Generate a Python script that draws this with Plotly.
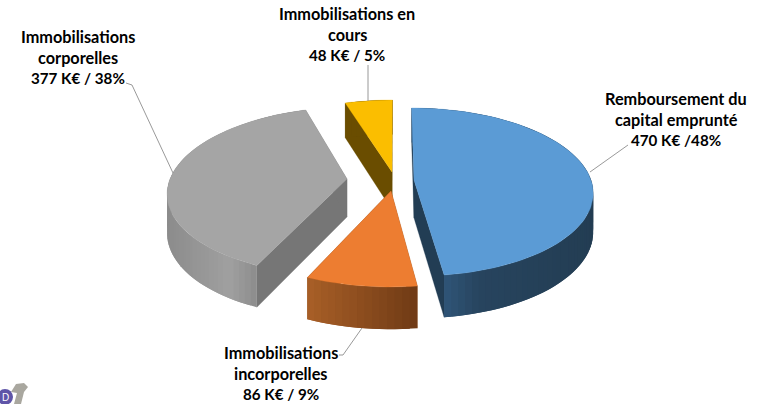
import math
import plotly.graph_objects as go

# ---- data ----
categories = ["Remboursement du capital emprunté", "Immobilisations incorporelles",
              "Immobilisations corporelles", "Immobilisations en cours"]
values_keur = [470, 86, 377, 48]
label_lines = [
    ["Remboursement du", "capital emprunté", "470 K€ /48%"],
    ["Immobilisations", "incorporelles", "86 K€ / 9%"],
    ["Immobilisations", "corporelles", "377 K€ / 38%"],
    ["Immobilisations en", "cours", "48 K€ / 5%"],
]

# ---- styles / layout ----
TOP = ["#5B9BD5", "#ED7D31", "#A5A5A5", "#FBBE00"]
CUT = ["#223D54", "#8A4A1C", "#767676", "#6A4D00"]
RIM = [
    [(444, "#2F5578"), (480, "#27445E"), (593, "#233D53")],
    [(308, "#A85F27"), (418, "#6F3A15")],
    [(168, "#8C8C8C"), (230, "#A0A0A0"), (262, "#888888")],
    [(345, "#6A4D00"), (392, "#6A4D00")],
]
APEX = [(414, 180), (391, 191), (347, 179), (392, 172)]
LABEL_POS = [(676, 98), (281, 352), (78, 36), (347, 13)]
LEADERS = [
    [(590, 172), (628, 145)],
    [(362, 328), (343, 355), (339, 355)],
    [(173, 173), (132, 85), (126, 83)],
    [(368, 65), (368, 101)],
]
A, B, K, DEPTH = 177.0, 82.3, 1 / 7, 38.0
VANISH_X = 395.0
LINE_GAP = 21


def project(theta, apex):
    x, y = math.sin(theta), math.cos(theta)
    d = 1 + K * y
    return VANISH_X + (apex[0] - VANISH_X + A * x) / d, apex[1] - B * y / d


def depth(theta):
    return DEPTH / (1 + 0.1 * math.cos(theta))


def rgb(c):
    return [int(c[i:i + 2], 16) for i in (1, 3, 5)]


def rim_colour(stops, x):
    if x <= stops[0][0]:
        return stops[0][1]
    for (x0, c0), (x1, c1) in zip(stops, stops[1:]):
        if x <= x1:
            t = (x - x0) / (x1 - x0)
            a, b = rgb(c0), rgb(c1)
            return "rgb(%d,%d,%d)" % tuple(round(p + (q - p) * t) for p, q in zip(a, b))
    return stops[-1][1]


def poly(pts, colour, width=0.0):
    return go.Scatter(x=[p[0] for p in pts] + [pts[0][0]], y=[p[1] for p in pts] + [pts[0][1]],
                      mode="lines", fill="toself", fillcolor=colour,
                      line=dict(color=colour, width=width), hoverinfo="skip", showlegend=False)


fig = go.Figure()
total = sum(values_keur)
angles = []
acc = 0.0
for v in values_keur:
    angles.append((acc / total * 2 * math.pi, (acc + v) / total * 2 * math.pi))
    acc += v

# painter's order: back slices first
for i in [3, 0, 2, 1]:
    a0, a1 = angles[i]
    apex = APEX[i]
    n = max(4, int((a1 - a0) / math.radians(2)))
    th = [a0 + (a1 - a0) * j / n for j in range(n + 1)]
    arc = [project(t, apex) for t in th]
    # the two radial cut faces
    for t, (x, y) in ((a0, arc[0]), (a1, arc[-1])):
        fig.add_trace(poly([apex, (x, y), (x, y + depth(t)), (apex[0], apex[1] + DEPTH)], CUT[i], 0.3))
    # outer rim: overlapping strips so it can shade horizontally without seams
    for j in range(n):
        k = min(j + 2, n)
        xm = (arc[j][0] + arc[j + 1][0]) / 2
        strip = arc[j:k + 1]
        ang = th[j:k + 1]
        lower = [(p[0], p[1] + depth(t)) for p, t in zip(strip, ang)]
        fig.add_trace(poly(strip + lower[::-1], rim_colour(RIM[i], xm)))
    # top face
    fig.add_trace(poly([apex] + arc, TOP[i], 0.3))

# leader lines
for seg in LEADERS:
    fig.add_trace(go.Scatter(x=[p[0] for p in seg], y=[p[1] for p in seg], mode="lines",
                             line=dict(color="#7F7F7F", width=0.8), hoverinfo="skip", showlegend=False))

# corner logo fragment
logo_th = [k * math.pi / 8 for k in range(17)]
fig.add_trace(poly([(5 + 8 * math.cos(t), 397 + 8 * math.sin(t)) for t in logo_th], "#5F55A8"))
fig.add_trace(poly([(11, 392), (16, 384), (24, 383), (28, 387), (24, 392), (21, 404), (14, 404), (17, 393)], "#A9A79F"))

annotations = []
for lines, (cx, cy) in zip(label_lines, LABEL_POS):
    for j, line in enumerate(lines):
        size = 15.2 if j == len(lines) - 1 else 16.3
        annotations.append(dict(x=cx, y=cy + j * LINE_GAP, xref="x", yref="y", text=line, showarrow=False,
                                xanchor="center", yanchor="middle",
                                font=dict(family="Lato", size=size, color="#000000", weight="bold")))
annotations.append(dict(x=5, y=397, xref="x", yref="y", text="D", showarrow=False,
                        font=dict(family="Liberation Sans", size=10, color="#FFFFFF")))

fig.update_layout(
    width=758, height=404, autosize=False, margin=dict(l=0, r=0, t=0, b=0),
    paper_bgcolor="white", plot_bgcolor="white", showlegend=False, annotations=annotations,
    xaxis=dict(range=[0, 758], visible=False, fixedrange=True),
    yaxis=dict(range=[404, 0], visible=False, fixedrange=True),
)
fig.write_html("out.html", config=dict(displayModeBar=False),
               post_script="document.body.style.margin='0';")
